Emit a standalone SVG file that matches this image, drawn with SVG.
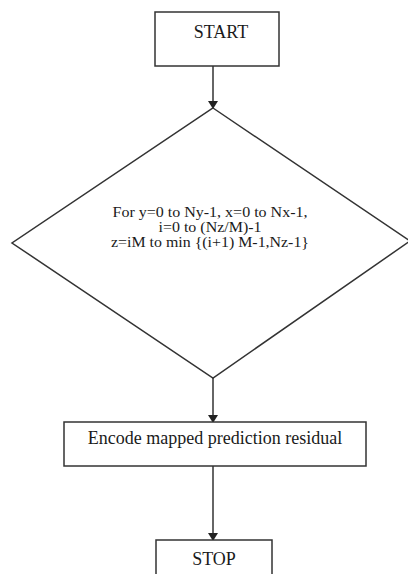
<svg xmlns="http://www.w3.org/2000/svg" width="408" height="574" viewBox="0 0 408 574">
<style>
.box{fill:#fff;stroke:#333;stroke-width:1.5}
.t{font-family:"Liberation Serif","Times New Roman",serif;fill:#1a1a1a;text-anchor:middle}
.big{font-size:18px}
.small{font-size:15px}
.edge{stroke:#333;stroke-width:1.5;fill:none;marker-end:url(#arr)}
</style>
<defs>
<marker id="arr" markerWidth="8" markerHeight="10" refX="7" refY="5" orient="auto" markerUnits="userSpaceOnUse" viewBox="0 0 8 10">
<path d="M0,0 L8,5 L0,10 Z" fill="#222"/>
</marker>
</defs>
<rect width="408" height="574" fill="#fff"/>
<g id="connectors">
<line class="edge" x1="213" y1="66" x2="213" y2="108"/>
<line class="edge" x1="213" y1="378" x2="213" y2="422"/>
<line class="edge" x1="213" y1="466" x2="213" y2="540"/>
</g>
<g id="start">
<rect class="box" x="155" y="12" width="124" height="54"/>
<text class="t big" x="221" y="38">START</text>
</g>
<g id="loop">
<polygon class="box" points="213,108 410,241 213,378 12,243"/>
<text class="t small" x="210" y="217" textLength="195" lengthAdjust="spacingAndGlyphs">For y=0 to Ny-1, x=0 to Nx-1,</text>
<text class="t small" x="210" y="232" textLength="103" lengthAdjust="spacingAndGlyphs">i=0 to (Nz/M)-1</text>
<text class="t small" x="210" y="247" textLength="198" lengthAdjust="spacingAndGlyphs">z=iM to min {(i+1) M-1,Nz-1}</text>
</g>
<g id="encode">
<rect class="box" x="64" y="422" width="302" height="44"/>
<text class="t big" x="215" y="444">Encode mapped prediction residual</text>
</g>
<g id="stop">
<rect class="box" x="156" y="540" width="116" height="40"/>
<text class="t big" x="214" y="565">STOP</text>
</g>
</svg>
